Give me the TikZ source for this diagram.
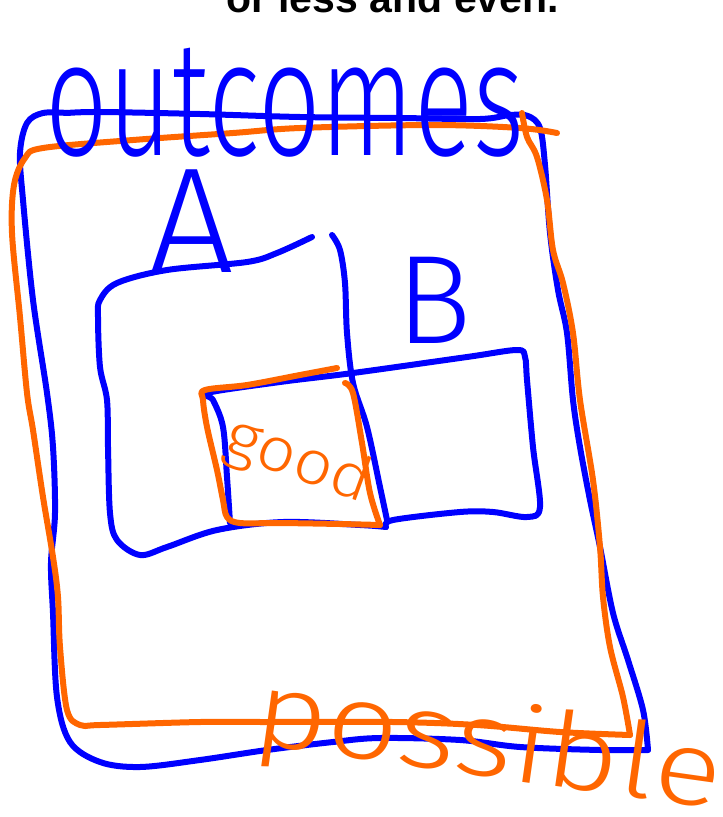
\documentclass[tikz,border=0pt]{standalone}
\usepackage{fontspec}
\setmainfont{Liberation Sans}
\IfFontExistsTF{Fira Sans Light}{\newfontfamily\handfont{Fira Sans Light}}{\newfontfamily\handfont{Liberation Sans}}
\definecolor{penblue}{RGB}{0,0,255}
\definecolor{penorange}{RGB}{255,102,0}
\begin{document}
\begin{tikzpicture}[x=1pt,y=-1pt,
  bluepen/.style={draw=penblue,line width=6pt,line cap=round,line join=round},
  orangepen/.style={draw=penorange,line width=6pt,line cap=round,line join=round},
  handblue/.style={text=penblue,inner sep=0pt},
  handorange/.style={text=penorange,inner sep=0pt}]
\useasboundingbox (0,0) rectangle (723,817);
\clip (0,0) rectangle (723,817);

% partially visible printed text at the top
\node[anchor=base west,inner sep=0pt,font=\fontsize{41}{41}\selectfont\bfseries] (toptext) at (226,12) {or less and even.};

% outer blue box
\draw[bluepen] plot[smooth,tension=0.55] coordinates {(67,113) (100,112) (200,114) (300,117) (400,118) (480,119) (510,115) (528,116) (540,128) (545,165) (550,233) (558,290) (567,333) (573,400) (580,447) (590,500) (600,547) (613,613) (628,660) (643,710) (648,750)};
\draw[bluepen] plot[smooth,tension=0.55] coordinates {(648,750) (600,750) (520,747) (460,740) (380,738) (333,742) (267,750) (200,760) (140,767) (100,762) (70,742) (57,697) (53,613) (51,563) (55,513) (53,447) (47,393) (33,300) (23,200) (20,153) (27,123) (43,113) (67,113)};

% outer orange box
\draw[orangepen] plot[smooth,tension=0.55] coordinates {(557,133) (520,128) (433,125) (300,128) (233,133) (133,140) (43,148) (25,158) (14,185) (12,233) (20,317) (27,393) (33,430) (43,497) (53,557) (58,597) (60,647) (67,710) (80,725) (100,725) (200,722) (267,722) (393,722) (477,725) (560,732) (630,735)};
\draw[orangepen] plot[smooth,tension=0.55] coordinates {(630,735) (623,697) (610,647) (603,597) (600,547) (593,480) (580,400) (573,333) (563,283) (553,250) (547,200) (537,157) (527,137) (522,113)};

% box A
\draw[bluepen] plot[smooth,tension=0.55] coordinates {(312,237) (277,253) (247,262) (167,270) (117,283) (100,300) (98,317) (100,367) (107,400) (108,447) (110,513) (117,540) (140,555) (167,547) (217,530) (283,522) (360,525) (386,527)};
\draw[bluepen] plot[smooth,tension=0.55] coordinates {(332,235) (340,250) (345,283) (347,333) (353,383) (367,427) (380,487) (387,520)};

% box B
\draw[bluepen] plot[smooth,tension=0.55] coordinates {(386,527) (393,520) (460,512) (493,512) (527,517) (540,507) (533,447) (527,380) (525,357) (517,350) (467,357) (353,373) (280,382) (207,393) (213,400) (223,427) (227,477) (230,523)};

% orange "good" box
\draw[orangepen] plot[smooth,tension=0.55] coordinates {(337,368) (300,375) (247,385) (205,390) (203,400) (207,427) (217,470) (223,500) (227,517) (240,523) (280,523) (340,524) (380,525)};
\draw[orangepen] plot[smooth,tension=0.55] coordinates {(345,383) (353,393) (362,443) (370,493) (380,525)};

% handwritten labels
\node[handblue,anchor=base,xscale=0.67,font=\fontsize{164}{164}\selectfont\handfont] (outcomes) at (285,155) {outcomes};
\node[handblue,anchor=base,font=\fontsize{150}{150}\selectfont\handfont] (labelA) at (192,272) {A};
\node[handblue,anchor=base,font=\fontsize{126}{126}\selectfont\handfont] (labelB) at (434,343) {B};
\node[handorange,rotate=-20,xscale=1.1,font=\fontsize{62}{62}\selectfont\handfont] (good) at (298,462) {good};
\node[handorange,rotate=-8,xscale=1.2,font=\fontsize{105}{105}\selectfont\handfont] (possible) at (488,748) {possible};
\end{tikzpicture}
\end{document}
